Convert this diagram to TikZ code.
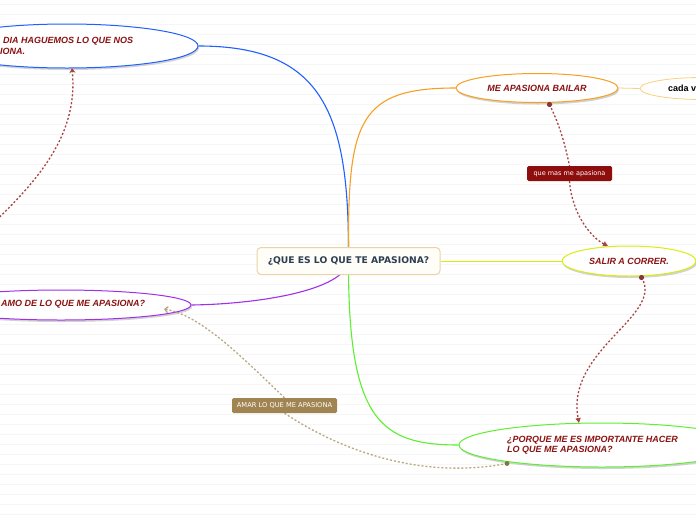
\documentclass[tikz,border=0pt]{standalone}
\usepackage{fontspec}
\setmainfont{Liberation Sans}
\newfontfamily\dejavu{DejaVu Sans}
\usetikzlibrary{shapes.geometric,shadows,arrows.meta}
\pgfdeclarelayer{bg}
\pgfsetlayers{bg,main}
\definecolor{cblue}{HTML}{2060FF}
\definecolor{cpurple}{HTML}{A030E8}
\definecolor{corange}{HTML}{F5A020}
\definecolor{cyellow}{HTML}{D8EE10}
\definecolor{cgreen}{HTML}{5CF030}
\definecolor{ccada}{HTML}{FAD080}
\definecolor{ctext}{HTML}{8B1212}
\definecolor{cdash}{HTML}{A84444}
\definecolor{ctan}{HTML}{B8A880}
\definecolor{ctanbox}{HTML}{A08452}
\definecolor{credbox}{HTML}{8E0E0E}
\definecolor{cslate}{HTML}{2C3E50}
\definecolor{ccborder}{HTML}{E8D4A8}
\definecolor{ccfill}{HTML}{FFFDF8}
\definecolor{cgdot}{HTML}{7A7A3A}
\tikzset{
  bubble/.style={ellipse, draw, line width=1pt, fill=white, inner sep=0pt,
    drop shadow={shadow xshift=1pt, shadow yshift=-2pt, opacity=.35}},
  btext/.style={font=\fontsize{9}{10.5}\selectfont\bfseries\itshape, text=ctext},
  dashlink/.style={draw=cdash, line width=1.3pt, dash pattern=on 2pt off 2pt},
  tanlink/.style={draw=ctan, line width=1.3pt, dash pattern=on 2pt off 2pt},
  tag/.style={rounded corners=1.5pt, text=white, inner sep=0pt},
  branch/.style={line width=1.1pt},
}
\begin{document}
\begin{tikzpicture}[x=1pt,y=-1pt]
\useasboundingbox (0,0) rectangle (696,520);
\begin{pgfonlayer}{bg}
  \fill[white] (0,0) rectangle (696,520);
  \foreach \k in {0,...,51} {
    \draw[black!3.5, line width=0.6pt] (0,4+10*\k) -- (696,4+10*\k);
  }
\end{pgfonlayer}

% central
\node[draw=ccborder, fill=ccfill, line width=1pt, rounded corners=4pt,
  minimum width=183pt, minimum height=27pt, inner sep=0pt,
  font=\dejavu\fontsize{9.2}{11}\selectfont\bfseries, text=cslate]
  (central) at (348.5,261) {¿QUE ES LO QUE TE APASIONA?};

% ellipses
\node[bubble, draw=cblue, minimum width=262pt, minimum height=44pt] (blue) at (67,46) {};
\node[btext, anchor=west, align=left, inner sep=0pt] (bluetxt) at (0,46) {\hspace{3pt}DIA HAGUEMOS LO QUE NOS\\IONA.};

\node[bubble, draw=cpurple, minimum width=260pt, minimum height=30pt] (purple) at (61,305) {};
\node[btext, anchor=west, inner sep=0pt] (purpletxt) at (1,304) {AMO DE LO QUE ME APASIONA?};

\node[bubble, draw=corange, minimum width=162pt, minimum height=29pt, btext] (orange) at (537,88) {ME APASIONA BAILAR};

\node[ellipse, draw=ccada, line width=0.8pt, fill=white, inner sep=0pt, minimum width=124pt, minimum height=22pt] (cada) at (702,88.5) {};
\node[anchor=west, inner sep=0pt, font=\fontsize{9}{10}\selectfont\bfseries] (cadatxt) at (668,88.5) {cada v};

\node[bubble, draw=cyellow, minimum width=134pt, minimum height=30pt, btext] (yellow) at (629,261) {SALIR A CORRER.};

\node[bubble, draw=cgreen, minimum width=286pt, minimum height=44pt] (green) at (602,445) {};
\node[btext, anchor=west, align=left, inner sep=0pt] (greentxt) at (507,445) {¿PORQUE ME ES IMPORTANTE HACER\\LO QUE ME APASIONA?};

% tags
\node[tag, fill=credbox, minimum width=85pt, minimum height=15pt, font=\dejavu\fontsize{6.5}{7}\selectfont] (tag1) at (569.5,173.5) {que mas me apasiona};
\node[tag, fill=ctanbox, minimum width=105pt, minimum height=15pt, font=\dejavu\fontsize{6.7}{7}\selectfont] (tag2) at (284.5,405.5) {AMAR LO QUE ME APASIONA};

\coordinate (offleft) at (-12,228);

\begin{pgfonlayer}{bg}
  \draw[branch, cblue] (central.north) .. controls (348,110) and (320,46) .. (blue.east);
  \draw[branch, corange] (central.north) .. controls (348,120) and (360,88) .. (orange.west);
  \draw[branch, cpurple] (central.center) .. controls (345,290) and (260,304) .. (purple.east);
  \draw[branch, cgreen] (central.center) .. controls (348,420) and (380,445) .. (green.west);
  \draw[line width=0.8pt, cyellow] (central.east) -- (yellow.west);
  \draw[line width=0.8pt, ccada] (orange.east) -- (cada.west);
\end{pgfonlayer}

% dashed relations
\coordinate (o1) at (549.5,104.5);
\coordinate (y1) at (641.5,277.5);
\coordinate (g1) at (507,463.5);
\draw[dashlink] (o1) .. controls (562,130) and (566,150) .. (tag1.north);
\draw[dashlink, -{Triangle[length=5pt,width=5pt]}] (tag1.south) .. controls (572,215) and (592,238) .. (608,246);
\fill[cdash!80!black] (o1) circle (2.6pt);

\draw[dashlink, -{Triangle[length=5pt,width=5pt]}] (y1) .. controls (665,315) and (565,350) .. (579,423);
\fill[cdash!80!black] (y1) circle (2.6pt);

\draw[dashlink, -{Stealth[length=5pt,width=6pt]}] (offleft) .. controls (45,175) and (78,130) .. (72,68);

\draw[tanlink, -{Straight Barb[length=3pt,width=6pt]}] (tag2.north) .. controls (240,355) and (200,315) .. (164,309);
\draw[tanlink] (tag2.south) .. controls (340,450) and (420,480) .. (g1);
\fill[cgdot] (g1) circle (2.4pt);
\end{tikzpicture}
\end{document}
